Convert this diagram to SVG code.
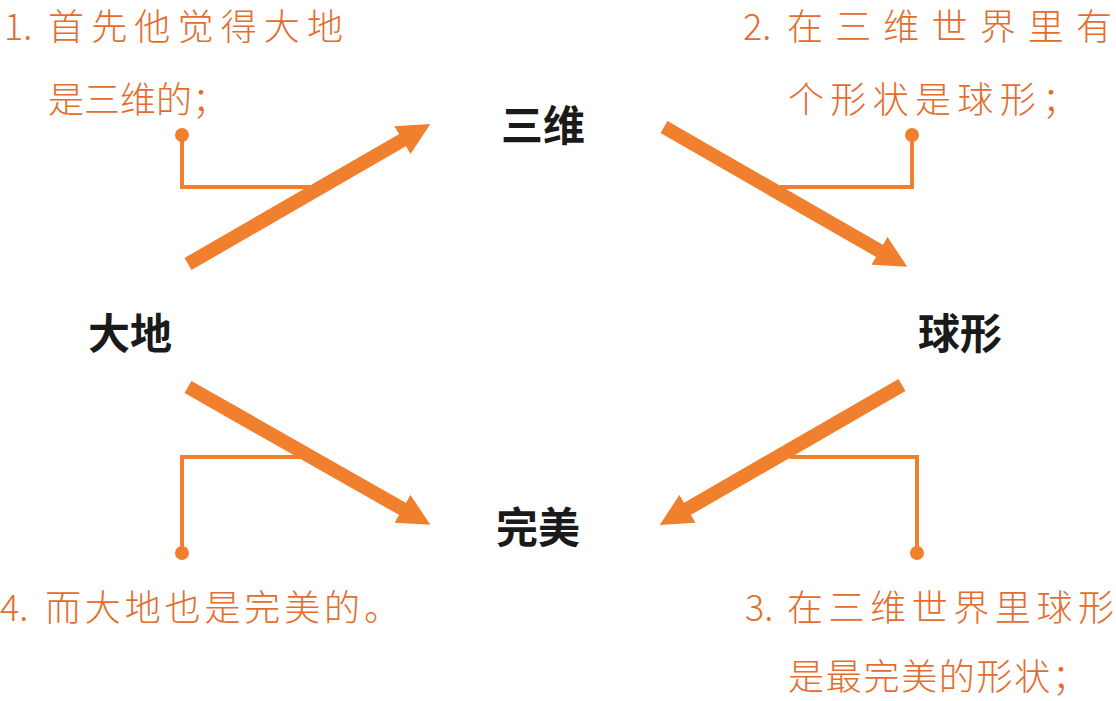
<svg xmlns="http://www.w3.org/2000/svg" width="1116" height="701" viewBox="0 0 1116 701">
<style>
.node{font-family:"Noto Sans CJK SC","Noto Sans",sans-serif;font-weight:bold;font-size:42px;fill:#1a1a1a;text-anchor:middle}
.note{font-family:"Noto Sans CJK SC","Noto Sans",sans-serif;font-weight:300;font-size:36px;fill:#e46c2c}
.arrow{stroke:#f0802e;stroke-width:14;fill:none}
.lead{stroke:#f0802e;stroke-width:4;fill:none}
.dot{fill:#f0802e}
</style>
<defs>
<marker id="ah" viewBox="0 0 10 10" refX="2" refY="5" markerWidth="2.3" markerHeight="2.3" orient="auto" markerUnits="strokeWidth">
<path d="M0,0 L10,5 L0,10 z" fill="#f0802e"/>
</marker>
</defs>
<rect width="1116" height="701" fill="#ffffff"/>
<g id="connectors">
<line class="arrow" x1="188" y1="264" x2="408" y2="137" marker-end="url(#ah)"/>
<line class="arrow" x1="664" y1="127" x2="885" y2="254" marker-end="url(#ah)"/>
<line class="arrow" x1="902" y1="385" x2="682" y2="512" marker-end="url(#ah)"/>
<line class="arrow" x1="188" y1="387" x2="408" y2="512" marker-end="url(#ah)"/>
<polyline class="lead" points="182,135 182,187 310,187"/>
<circle class="dot" cx="182" cy="135" r="7"/>
<polyline class="lead" points="912,135 912,187 780,187"/>
<circle class="dot" cx="912" cy="135" r="7"/>
<polyline class="lead" points="917,553 917,457 790,457"/>
<circle class="dot" cx="917" cy="553" r="7"/>
<polyline class="lead" points="182,553 182,457 300,457"/>
<circle class="dot" cx="182" cy="553" r="7"/>
</g>
<g id="node-sanwei"><text class="node" x="543" y="141">三维</text></g>
<g id="node-dadi"><text class="node" x="130" y="349">大地</text></g>
<g id="node-qiuxing"><text class="node" x="960" y="349">球形</text></g>
<g id="node-wanmei"><text class="node" x="538" y="543">完美</text></g>
<g id="note-1">
<text class="note" x="4" y="40">1.</text>
<text class="note" x="48" y="40" textLength="295" lengthAdjust="spacing">首先他觉得大地</text>
<text class="note" x="48" y="113" textLength="180" lengthAdjust="spacing">是三维的；</text>
</g>
<g id="note-2">
<text class="note" x="743" y="40">2.</text>
<text class="note" x="787" y="40" textLength="325" lengthAdjust="spacing">在三维世界里有</text>
<text class="note" x="788" y="113" textLength="290" lengthAdjust="spacing">个形状是球形；</text>
</g>
<g id="note-3">
<text class="note" x="745" y="621">3.</text>
<text class="note" x="787" y="621" textLength="327" lengthAdjust="spacing">在三维世界里球形</text>
<text class="note" x="788" y="690" textLength="300" lengthAdjust="spacing">是最完美的形状；</text>
</g>
<g id="note-4">
<text class="note" x="0" y="621">4.</text>
<text class="note" x="45" y="621" textLength="355" lengthAdjust="spacing">而大地也是完美的。</text>
</g>
</svg>
